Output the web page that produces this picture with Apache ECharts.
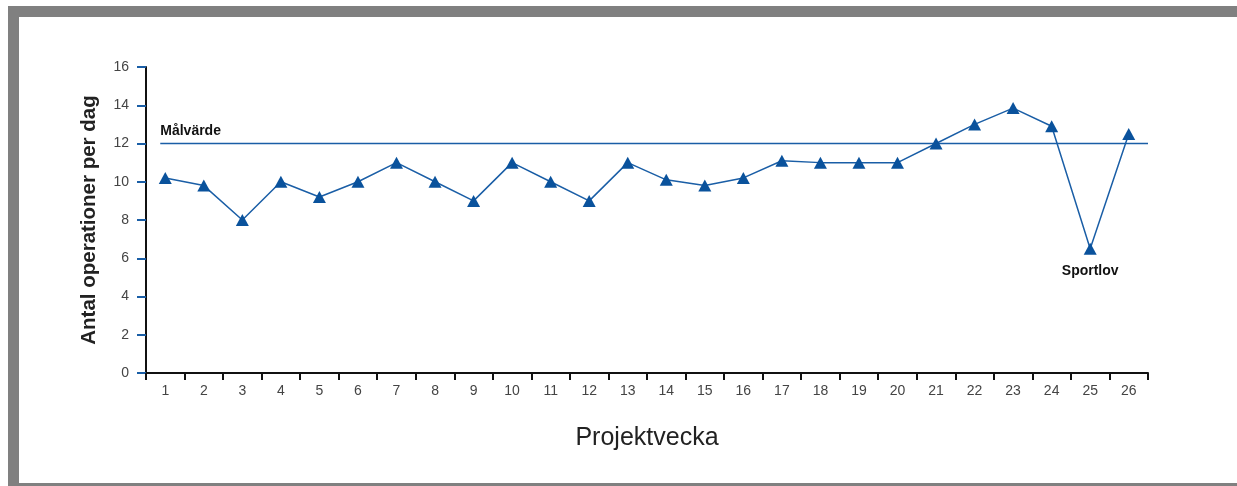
<!DOCTYPE html>
<html>
<head>
<meta charset="utf-8">
<style>
  html, body { margin: 0; padding: 0; background: #fff; }
  #chart { width: 1237px; height: 486px; }
</style>
<script src="https://cdn.jsdelivr.net/npm/echarts@6/dist/echarts.min.js"></script>
</head>
<body>
<div id="chart"></div>
<script>
// Project weeks and daily operation counts
const weeks = ['1','2','3','4','5','6','7','8','9','10','11','12','13','14','15','16','17','18','19','20','21','22','23','24','25','26'];
const operationsPerDay = [10.2, 9.8, 8.0, 10.0, 9.2, 10.0, 11.0, 10.0, 9.0, 11.0, 10.0, 9.0, 11.0, 10.1, 9.8, 10.2, 11.1, 11.0, 11.0, 11.0, 12.0, 13.0, 13.85, 12.9, 6.5, 12.5];
// Target level, drawn across the weeks on a value axis that mirrors the category slots
const targetValue = 12;
const targetSpan = [0.87, 26.5];
const yTicks = { min: 0, max: 16, interval: 2 };
const noteWeek = 25;
const noteText = 'Sportlov';
const targetText = 'Målvärde';

const blue = '#0a529c';
const lineBlue = '#1a5ea6';
const gray = '#808080';

const chart = echarts.init(document.getElementById('chart'), null, { renderer: 'canvas' });

chart.setOption({
  animation: false,
  backgroundColor: '#ffffff',
  textStyle: { fontFamily: 'Liberation Sans' },
  graphic: [
    { type: 'rect', shape: { x: 8, y: 6, width: 1229, height: 11 }, style: { fill: gray }, silent: true },
    { type: 'rect', shape: { x: 8, y: 6, width: 11, height: 480 }, style: { fill: gray }, silent: true },
    { type: 'rect', shape: { x: 8, y: 483, width: 1229, height: 3 }, style: { fill: gray }, silent: true }
  ],
  grid: { left: 146, right: 89, top: 67, bottom: 113, containLabel: false },
  xAxis: [
    {
      type: 'category',
      data: weeks,
      boundaryGap: true,
      name: 'Projektvecka',
      nameLocation: 'middle',
      nameGap: 53,
      nameTextStyle: { fontSize: 25, color: '#222', fontFamily: 'Liberation Sans' },
      axisLine: { lineStyle: { color: '#111', width: 2 } },
      axisTick: { show: true, alignWithLabel: false, length: 7, lineStyle: { color: '#111', width: 2 } },
      axisLabel: { fontSize: 14, color: '#444', margin: 11 },
      splitLine: { show: false }
    },
    {
      type: 'value',
      min: 0.5,
      max: 26.5,
      show: false
    }
  ],
  yAxis: {
    type: 'value',
    min: yTicks.min,
    max: yTicks.max,
    interval: yTicks.interval,
    name: 'Antal operationer per dag',
    nameLocation: 'middle',
    nameGap: 46,
    nameTextStyle: { fontSize: 20.5, fontWeight: 'bold', color: '#222', fontFamily: 'Liberation Sans' },
    axisLine: { show: true, lineStyle: { color: '#111', width: 2 } },
    axisTick: { show: true, length: 9, lineStyle: { color: lineBlue, width: 2 } },
    axisLabel: { fontSize: 14, color: '#444', margin: 17 },
    splitLine: { show: false }
  },
  series: [
    {
      name: targetText,
      type: 'line',
      xAxisIndex: 1,
      data: [
        { value: [targetSpan[0], targetValue], label: { show: true, formatter: targetText, position: 'top', distance: 5, align: 'left', fontSize: 14, fontWeight: 'bold', color: '#111' } },
        [targetSpan[1], targetValue]
      ],
      symbol: 'circle',
      symbolSize: 1,
      itemStyle: { color: 'rgba(0,0,0,0)' },
      lineStyle: { color: lineBlue, width: 1.5 },
      silent: true,
      z: 1
    },
    {
      name: 'Operationer',
      type: 'line',
      data: operationsPerDay.map((v, i) => weeks[i] === String(noteWeek)
        ? { value: v, label: { show: true, formatter: noteText, position: 'bottom', distance: 9, fontSize: 14, fontWeight: 'bold', color: '#111' } }
        : v),
      symbol: 'triangle',
      symbolSize: [13, 12],
      showAllSymbol: true,
      itemStyle: { color: blue },
      lineStyle: { color: lineBlue, width: 1.5 },
      z: 3
    }
  ]
});
</script>
</body>
</html>
